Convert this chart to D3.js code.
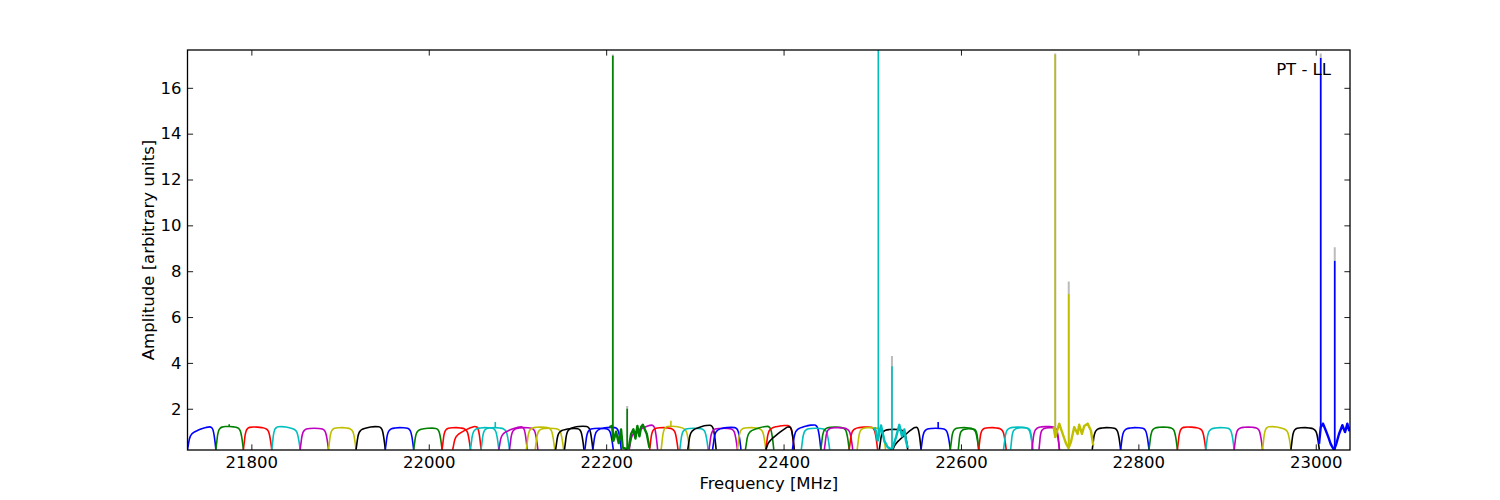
<!DOCTYPE html>
<html>
<head>
<meta charset="utf-8">
<script src="https://cdn.jsdelivr.net/npm/d3@7"></script>
<style>
body { margin: 0; background: #fff; }
text { font-family: "DejaVu Sans", sans-serif; }
</style>
</head>
<body>
<svg width="1500" height="500"></svg>
<script>
// matplotlib classic colour cycle
var colors = { b: "#0000ff", g: "#008000", r: "#ff0000", c: "#00bfbf", m: "#bf00bf", y: "#bfbf00", k: "#000000" };

var xTicks = [21800, 22000, 22200, 22400, 22600, 22800, 23000];
var yTicks = [2, 4, 6, 8, 10, 12, 14, 16];

// sub-band windows [MHz], colour, level at the left / right of the passband
var bandStart = [21728, 21760, 21791, 21823, 21855, 21887, 21918, 21951, 21983,
    22015, 22027, 22047, 22059, 22079, 22091, 22110, 22120, 22143, 22153, 22176, 22185,
    22226, 22249, 22262, 22283, 22292, 22316, 22320, 22348, 22357, 22380, 22380,
    22410, 22420, 22442, 22446, 22474, 22483, 22508, 22523, 22555, 22588, 22597,
    22620, 22648, 22656, 22680, 22688, 22748, 22780, 22812, 22844, 22876, 22908,
    22940, 22972];
var bandEnd = [21760, 21791, 21823, 21855, 21887, 21918, 21951, 21983, 22015,
    22047, 22059, 22079, 22091, 22111, 22123, 22142, 22152, 22175, 22185, 22208, 22217,
    22258, 22281, 22294, 22315, 22324, 22348, 22352, 22380, 22389, 22412, 22412,
    22442, 22452, 22474, 22478, 22506, 22515, 22540, 22555, 22588, 22620, 22620,
    22651, 22681, 22681, 22711, 22711, 22780, 22812, 22844, 22876, 22908, 22940,
    22972, 23004];
var bandColor = ["b", "g", "r", "c", "m", "y", "k", "b", "g",
    "r", "r", "c", "c", "m", "m", "y", "y", "k", "k", "b", "b",
    "m", "r", "y", "c", "k", "m", "b", "y", "g", "r", "k",
    "b", "c", "g", "m", "r", "y", "k", "k", "b", "g", "g",
    "r", "c", "c", "m", "m", "k", "b", "g", "r", "c", "m",
    "y", "k"];
var bandLevelL = [0.9, 1.25, 1.25, 1.3, 1.15, 1.2, 1.1, 1.15, 1.1,
    1.2, 0.8, 1.15, 1.2, 0.9, 1.15, 1.2, 1.15, 1.05, 1.15, 1.15, 1.1,
    0.9, 1.2, 1.3, 1.15, 1.05, 1.15, 1.1, 1.2, 1.0, 1.15, 0.5,
    1.1, 1.15, 1.2, 1.2, 1.15, 1.2, 1.1, 0.4, 1.15, 1.2, 1.1,
    1.2, 1.2, 1.15, 1.2, 1.15, 1.15, 1.15, 1.2, 1.25, 1.15, 1.2,
    1.3, 1.2];
var bandLevelR = [1.35, 1.2, 1.15, 1.1, 1.15, 1.15, 1.3, 1.2, 1.2,
    1.15, 1.4, 1.2, 1.15, 1.35, 1.2, 1.2, 1.15, 1.2, 1.3, 1.15, 1.25,
    1.45, 1.15, 1.15, 1.15, 1.4, 1.15, 1.25, 1.15, 1.35, 1.35, 1.45,
    1.4, 1.15, 1.2, 1.15, 1.25, 1.15, 1.1, 1.45, 1.15, 1.15, 1.15,
    1.15, 1.2, 1.2, 1.25, 1.2, 1.2, 1.2, 1.2, 1.15, 1.2, 1.2,
    1.1, 1.15];

// passband shape (fraction across band, fraction of level)
var profileT = [0, 0.03, 0.06, 0.1, 0.15, 0.22, 0.35, 0.5, 0.65, 0.78, 0.85, 0.9, 0.94, 0.97, 1];
var profileV = [0, 0.3, 0.6, 0.8, 0.9, 0.96, 0.99, 1, 0.99, 0.96, 0.9, 0.78, 0.55, 0.3, 0];
var floorLevel = 0.22;

// windows with strong lines: rippled baselines [MHz, amplitude]
var greenRipple = [[22203.7, 1.2], [22206.7, 1.25], [22208.2, 0.6], [22211.2, 1.0], [22214.2, 0.5],
    [22216.8, 1.1], [22218.7, 0.3], [22222.5, 0.25], [22225.5, 0.3], [22228.1, 0.9], [22230.7, 1.1],
    [22233, 0.7], [22235.2, 1.25], [22237.5, 0.8], [22239.4, 1.2], [22241.3, 1.3], [22245.8, 0.9], [22248.8, 0.3]];
var cyanRipple = [[22502.6, 1.19], [22504.2, 1.0], [22506.1, 0.6], [22509.9, 1.27], [22513.6, 0.6],
    [22517.4, 0.32], [22521.1, 0.24], [22523, 0.3], [22526.8, 0.76], [22530.5, 1.3], [22533.5, 0.8],
    [22536.2, 1.1], [22538, 0.6], [22540, 0.3]];
var yellowRipple = [[22704.5, 1.2], [22706.3, 0.76], [22710.8, 1.35], [22714.6, 0.91], [22718.3, 0.5],
    [22721.3, 0.28], [22724, 0.55], [22727.7, 1.2], [22731.5, 0.9], [22733.3, 1.3], [22736.4, 0.9],
    [22739, 1.25], [22742.8, 1.35], [22746.5, 1.05], [22749.1, 0.4]];
var blueRipple = [[23003.7, 0.47], [23005.6, 1.2], [23008.2, 1.35], [23011.2, 1.06], [23014.2, 0.76],
    [23016.8, 0.47], [23020.6, 0.2], [23023.2, 0.47], [23026.2, 0.9], [23030, 1.28], [23033, 0.98],
    [23035.6, 1.35], [23037.5, 1.06], [23039, 1.2]];
var ripples = [greenRipple, cyanRipple, yellowRipple, blueRipple];
var rippleColor = ["g", "c", "y", "b"];

// narrow lines
var spikeFreq = [21775, 22075, 22207.5, 22223.7, 22273, 22506.8, 22522.2, 22574.3, 22706.3, 22721.5, 23005.6, 23021.4];
var spikeBase = [1.2, 1.2, 0.6, 0.3, 1.2, 0.6, 0.3, 1.15, 0.75, 0.3, 1.2, 0.2];
var spikeTop = [1.32, 1.42, 17.4, 2.0, 1.48, 17.65, 3.85, 1.42, 17.45, 7.0, 17.3, 8.45];
var spikeGray = [0, 0, 17.45, 2.12, 0, 0, 4.3, 0, 17.5, 7.55, 17.5, 9.05];
var spikeColor = ["g", "c", "g", "g", "y", "c", "c", "b", "y", "y", "b", "b"];

var svg = d3.select("svg");
var margin = { left: 187.5, right: 150, top: 50, bottom: 50 };
var width = 1500 - margin.left - margin.right;
var height = 500 - margin.top - margin.bottom;

var x = d3.scaleLinear().domain([21728, 23038.6]).range([0, width]);
var y = d3.scaleLinear().domain([0.2, 17.65]).range([height, 0]);

var g = svg.append("g").attr("transform", "translate(" + margin.left + "," + margin.top + ")");

svg.append("clipPath").attr("id", "clip")
    .append("rect").attr("width", width).attr("height", height);

var plot = g.append("g").attr("clip-path", "url(#clip)");

var line = d3.line()
    .x(function (d) { return x(d[0]); })
    .y(function (d) { return y(d[1]); });

// gray tips behind
spikeFreq.forEach(function (f, i) {
    if (!spikeGray[i]) return;
    plot.append("path")
        .attr("d", line([[f, spikeBase[i]], [f, spikeGray[i]]]))
        .attr("stroke", "#bbbbbb").attr("stroke-width", 2).attr("fill", "none");
});

bandStart.forEach(function (s, i) {
    var e = bandEnd[i];
    var pts = profileT.map(function (t, j) {
        var lvl = bandLevelL[i] + (bandLevelR[i] - bandLevelL[i]) * t;
        return [s + t * (e - s), floorLevel + (lvl - floorLevel) * profileV[j]];
    });
    plot.append("path")
        .attr("d", line.curve(d3.curveMonotoneX)(pts))
        .attr("stroke", colors[bandColor[i]])
        .attr("stroke-width", 1.6)
        .attr("fill", "none");
});

line.curve(d3.curveLinear);

ripples.forEach(function (r, i) {
    plot.append("path")
        .attr("d", line(r))
        .attr("stroke", colors[rippleColor[i]])
        .attr("stroke-width", 2.4)
        .attr("stroke-linejoin", "round")
        .attr("fill", "none");
});

spikeFreq.forEach(function (f, i) {
    plot.append("path")
        .attr("d", line([[f, spikeBase[i]], [f, spikeTop[i]]]))
        .attr("stroke", colors[spikeColor[i]])
        .attr("stroke-width", 1.6)
        .attr("fill", "none");
});

// axes, ticks pointing inwards on all sides
function clean(sel) {
    sel.select(".domain").remove();
    sel.selectAll("line").attr("stroke-width", 0.9);
    sel.selectAll("text").attr("font-size", "16.5px").attr("fill", "#000")
        .attr("font-family", "DejaVu Sans, sans-serif");
}

g.append("g").attr("transform", "translate(0," + height + ")")
    .call(d3.axisBottom(x).tickValues(xTicks).tickFormat(d3.format("d")).tickSizeInner(-5.6).tickSizeOuter(0).tickPadding(6))
    .call(clean);
g.append("g")
    .call(d3.axisTop(x).tickValues(xTicks).tickFormat("").tickSizeInner(-5.6).tickSizeOuter(0))
    .call(clean);
g.append("g")
    .call(d3.axisLeft(y).tickValues(yTicks).tickFormat(d3.format("d")).tickSizeInner(-5.6).tickSizeOuter(0).tickPadding(6))
    .call(clean);
g.append("g").attr("transform", "translate(" + width + ",0)")
    .call(d3.axisRight(y).tickValues(yTicks).tickFormat("").tickSizeInner(-5.6).tickSizeOuter(0))
    .call(clean);

g.append("rect")
    .attr("width", width).attr("height", height)
    .attr("fill", "none").attr("stroke", "#000").attr("stroke-width", 1.3);

g.append("text")
    .attr("x", width / 2).attr("y", height + 38.5)
    .attr("text-anchor", "middle").attr("font-size", "16.5px")
    .text("Frequency [MHz]");

g.append("text")
    .attr("transform", "translate(-34," + (height / 2) + ") rotate(-90)")
    .attr("text-anchor", "middle").attr("font-size", "16.5px")
    .text("Amplitude [arbitrary units]");

g.append("text")
    .attr("x", width - 19).attr("y", 25)
    .attr("text-anchor", "end").attr("font-size", "16.5px")
    .text("PT - LL");
</script>
</body>
</html>
